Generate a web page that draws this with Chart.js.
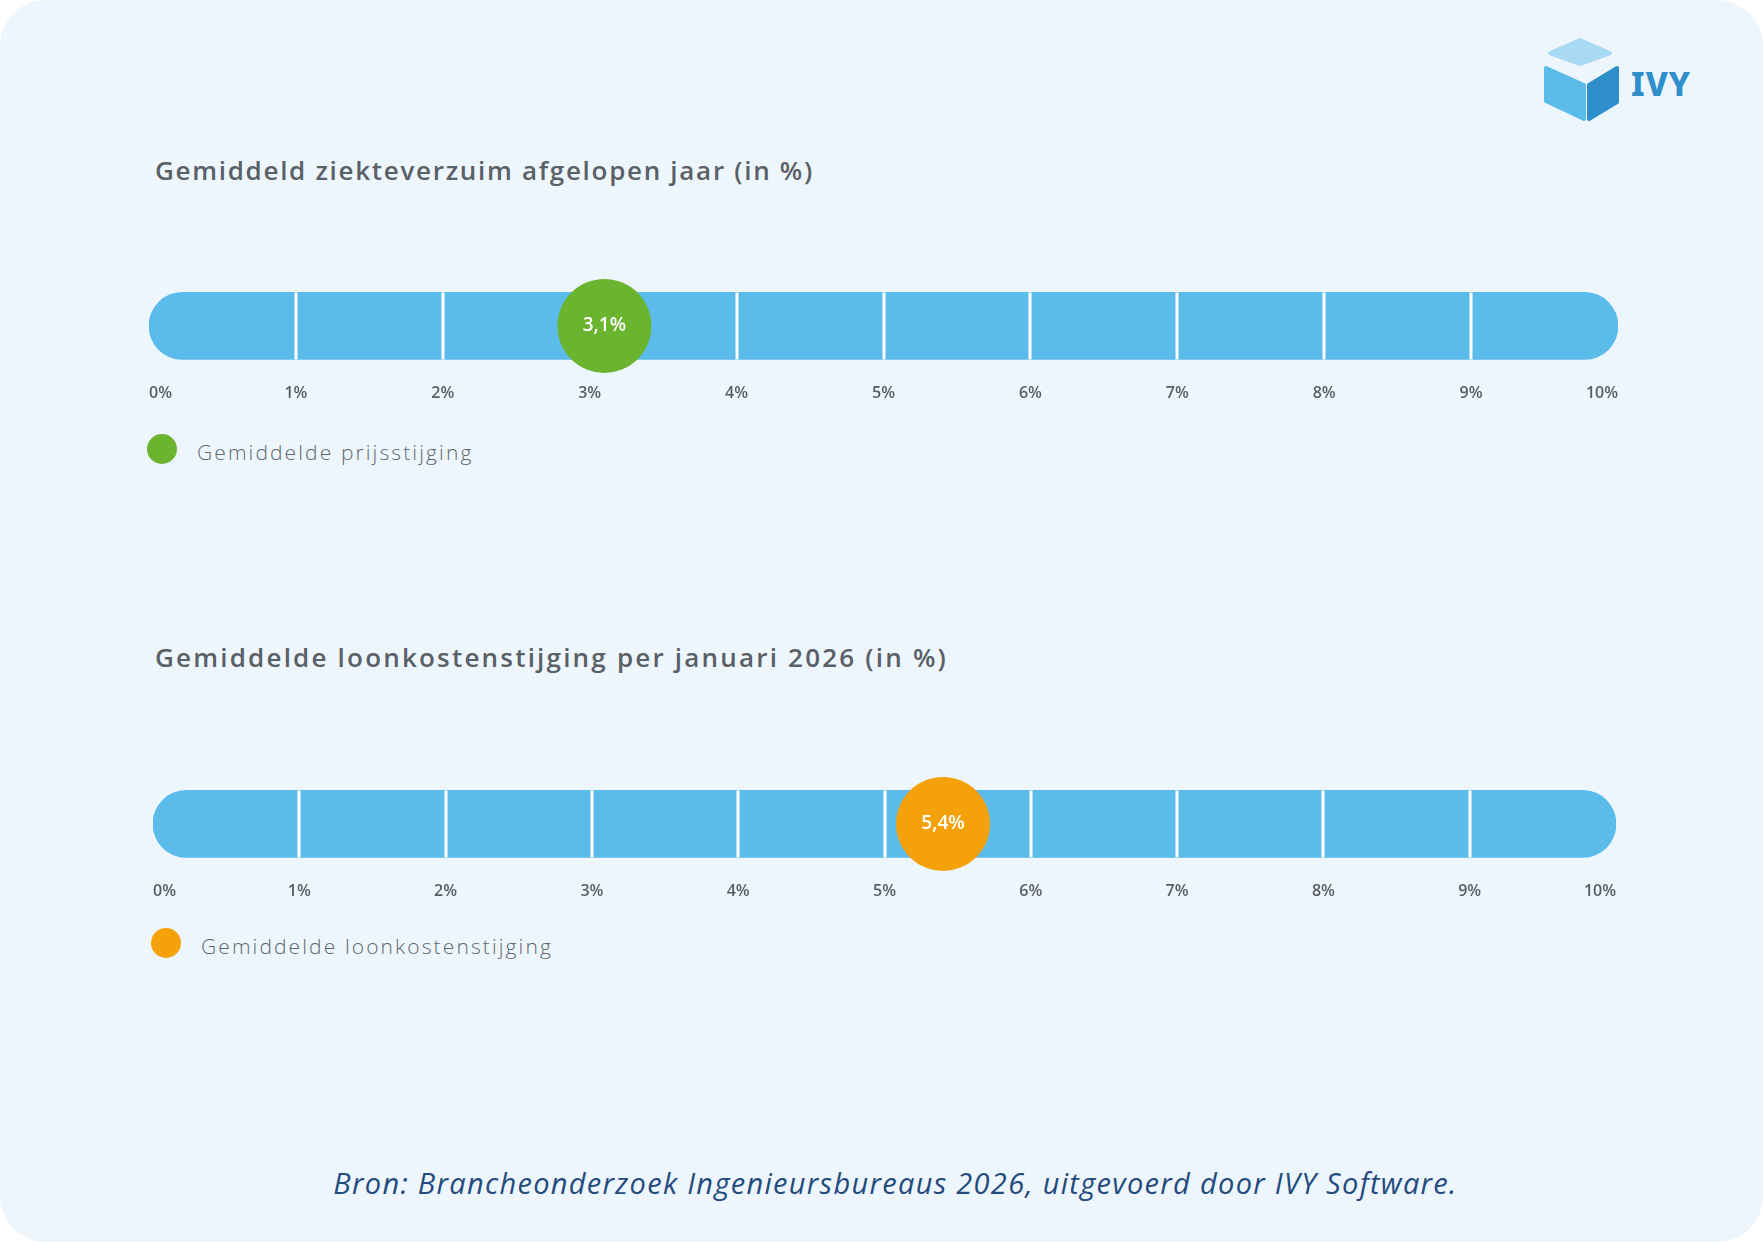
<!DOCTYPE html>
<html>
<head>
<meta charset="utf-8">
<script src="https://cdn.jsdelivr.net/npm/chart.js@4.4.1/dist/chart.umd.min.js"></script>
<style>
  html, body { margin: 0; padding: 0; background: #ffffff; }
  #card {
    position: absolute; left: 0; top: 0; width: 1763px; height: 1242px;
    background: #EEF6FD; border-radius: 46px; overflow: hidden;
    font-family: "Open Sans", "Noto Sans", sans-serif;
  }
  .title {
    position: absolute; left: 155px; margin: 0;
    font-size: 26px; line-height: 30px; font-weight: 600;
    color: #5a6067; white-space: nowrap;
  }
  canvas { position: absolute; }
  .legend { position: absolute; display: flex; align-items: center; }
  .legend .dot { width: 30px; height: 30px; border-radius: 50%; margin-right: 20px; }
  .legend span { font-size: 21px; font-weight: 300; color: #5f666e; letter-spacing: 2.1px; position: relative; top: 3px; }
  #src {
    position: absolute; left: 14px; width: 1763px; top: 1166px; text-align: center;
    font-size: 29px; line-height: 34px; font-style: italic; font-weight: 400;
    color: #244b7d; white-space: nowrap; letter-spacing: 1.3px;
  }
  #logo { position: absolute; left: 1530px; top: 30px; }
</style>
</head>
<body>
<div id="card">
  <svg id="logo" width="180" height="100" viewBox="0 0 180 100">
    <polygon points="20,23 50,10 80,23 50,34" fill="#A9DAF3" stroke="#A9DAF3" stroke-width="4" stroke-linejoin="round"/>
    <polygon points="16,38 54,55 54,89 16,71" fill="#5BBBEB" stroke="#5BBBEB" stroke-width="4" stroke-linejoin="round"/>
    <polygon points="59,55 87,38 87,72 59,89" fill="#2F8FCB" stroke="#2F8FCB" stroke-width="4" stroke-linejoin="round"/>
    <text x="101" y="66" font-family="'Noto Sans', sans-serif" font-weight="800" font-size="33" letter-spacing="1" fill="#2F8FCB">IVY</text>
  </svg>

  <div class="title" id="title1" style="top:155px; letter-spacing:1.7px"></div>
  <canvas id="chart1" width="1509" height="160" style="left:129px; top:256px"></canvas>
  <div class="legend" style="left:147px; top:434px"><div class="dot" id="dot1"></div><span id="leg1"></span></div>

  <div class="title" id="title2" style="top:642px; letter-spacing:2.2px"></div>
  <canvas id="chart2" width="1503" height="160" style="left:133px; top:754px"></canvas>
  <div class="legend" style="left:151px; top:928px"><div class="dot" id="dot2"></div><span id="leg2"></span></div>

  <div id="src">Bron: Brancheonderzoek Ingenieursbureaus 2026, uitgevoerd door IVY Software.</div>
</div>

<script>
// chart data
const chartTitles = ['Gemiddeld ziekteverzuim afgelopen jaar (in %)', 'Gemiddelde loonkostenstijging per januari 2026 (in %)'];
const legendLabels = ['Gemiddelde prijsstijging', 'Gemiddelde loonkostenstijging'];
const markerValues = [3.1, 5.4];
const scaleMin = 0;
const scaleMax = 10;
const scaleStep = 1;

// styles
const barColor = '#5BBBEB';
const markerColors = ['#6BB42F', '#F5A20A'];
const fontFamily = '"Open Sans", "Noto Sans", sans-serif';

function fmt(v) {
  return v.toFixed(1).replace('.', ',') + '%';
}

// white separators on the track, drawn before the marker
const dividerPlugin = {
  id: 'dividers',
  afterDatasetDraw(chart, args) {
    if (args.meta.type !== 'bar') return;
    const bar = args.meta.data[0];
    const { y, height } = bar.getProps(['y', 'height'], true);
    const xs = chart.scales.x;
    const ctx = chart.ctx;
    ctx.save();
    ctx.strokeStyle = '#ffffff';
    ctx.lineWidth = 3;
    xs.ticks.forEach(t => {
      if (t.value <= xs.min || t.value >= xs.max) return;
      const px = Math.round(xs.getPixelForValue(t.value));
      ctx.beginPath();
      ctx.moveTo(px, y - height / 2);
      ctx.lineTo(px, y + height / 2);
      ctx.stroke();
    });
    ctx.restore();
  }
};

// value text inside the marker
const markerLabelPlugin = {
  id: 'markerLabel',
  afterDatasetsDraw(chart) {
    const ctx = chart.ctx;
    chart.data.datasets.forEach((ds, i) => {
      if (ds.type !== 'scatter') return;
      const meta = chart.getDatasetMeta(i);
      meta.data.forEach((pt, j) => {
        ctx.save();
        ctx.fillStyle = '#ffffff';
        ctx.font = '600 19px ' + fontFamily;
        ctx.textAlign = 'center';
        ctx.textBaseline = 'middle';
        ctx.fillText(fmt(ds.data[j].x), pt.x, pt.y);
        ctx.restore();
      });
    });
  }
};

function makeChart(id, idx) {
  const cat = chartTitles[idx];
  return new Chart(document.getElementById(id), {
    type: 'bar',
    data: {
      labels: [cat],
      datasets: [
        {
          type: 'bar',
          data: [[scaleMin, scaleMax]],
          backgroundColor: barColor,
          borderSkipped: false,
          borderRadius: 34,
          barThickness: 67,
          order: 2
        },
        {
          type: 'scatter',
          data: [{ x: markerValues[idx], y: cat }],
          backgroundColor: markerColors[idx],
          borderWidth: 0,
          pointRadius: 47,
          pointHoverRadius: 47,
          clip: false,
          order: 1
        }
      ]
    },
    options: {
      indexAxis: 'y',
      responsive: false,
      animation: false,
      events: [],
      layout: { autoPadding: false, padding: { left: 20, right: 20, top: 20, bottom: 5 } },
      plugins: { legend: { display: false }, tooltip: { enabled: false } },
      scales: {
        x: {
          type: 'linear',
          min: scaleMin,
          max: scaleMax,
          grid: { display: false, drawTicks: false },
          border: { display: false },
          ticks: {
            stepSize: scaleStep,
            align: 'inner',
            padding: 8,
            color: '#585d64',
            font: { family: fontFamily, size: 16, weight: '600' },
            callback: v => v + '%'
          }
        },
        y: {
          type: 'category',
          display: false
        }
      }
    },
    plugins: [dividerPlugin, markerLabelPlugin]
  });
}

document.getElementById('title1').textContent = chartTitles[0];
document.getElementById('title2').textContent = chartTitles[1];
document.getElementById('leg1').textContent = legendLabels[0];
document.getElementById('leg2').textContent = legendLabels[1];
document.getElementById('dot1').style.background = markerColors[0];
document.getElementById('dot2').style.background = markerColors[1];

makeChart('chart1', 0);
makeChart('chart2', 1);
</script>
</body>
</html>
